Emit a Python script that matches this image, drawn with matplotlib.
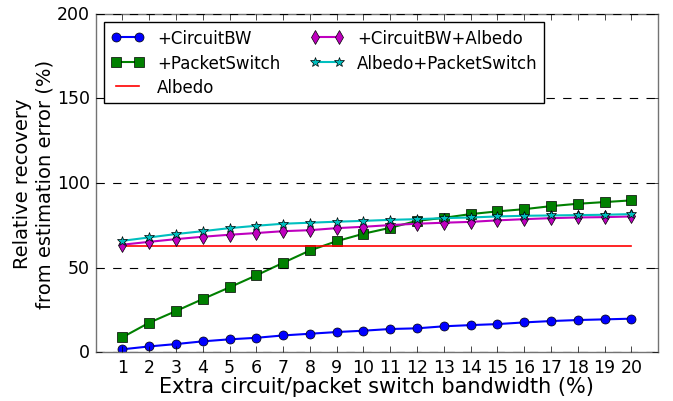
import matplotlib
matplotlib.use('Agg')
import matplotlib.pyplot as plt
import numpy as np

plt.style.use('classic')

bandwidth = list(range(1, 21))
circuit_bw = [1.8, 3.5, 4.9, 6.5, 7.7, 8.6, 10.0, 11.0, 12.0, 12.8,
              13.8, 14.2, 15.4, 16.1, 16.7, 17.7, 18.5, 19.1, 19.5, 19.9]
packet_switch = [8.9, 17.5, 24.4, 31.5, 38.4, 45.5, 52.9, 60.2, 65.7, 70.1,
                 73.6, 77.7, 79.5, 81.7, 83.3, 84.6, 86.4, 87.8, 88.8, 89.8]
albedo = [62.8] * 20
circuit_albedo = [63.6, 65.3, 66.9, 68.3, 69.5, 70.5, 71.6, 72.2, 73.4, 74.2,
                  75.2, 76.0, 76.6, 77.1, 78.0, 78.7, 79.3, 79.7, 79.9, 80.3]
albedo_packet = [65.9, 67.9, 69.9, 71.6, 73.4, 74.8, 76.0, 76.6, 77.2, 77.7,
                 78.3, 78.7, 79.3, 79.7, 80.3, 80.7, 80.9, 81.1, 81.3, 81.7]

fig = plt.figure(figsize=(6.73, 4.02), dpi=100, facecolor='white')
ax = fig.add_subplot(111)
fig.subplots_adjust(left=0.142, right=0.978, top=0.963, bottom=0.121)

ax.plot(bandwidth, circuit_bw, 'b-o', markersize=6.5, linewidth=1.5, label='+CircuitBW')
ax.plot(bandwidth, packet_switch, 'g-s', markersize=6.5, linewidth=1.5, label='+PacketSwitch')
ax.plot(bandwidth, albedo, 'r-', linewidth=1.2, label='Albedo')
ax.plot(bandwidth, circuit_albedo, 'm-d', markersize=7.5, linewidth=1.5, label='+CircuitBW+Albedo')
ax.plot(bandwidth, albedo_packet, 'c-*', markersize=7.5, linewidth=1.5, label='Albedo+PacketSwitch')

ax.set_xlim(0, 21)
ax.set_ylim(0, 200)
ax.set_xticks(bandwidth)
ax.set_yticks([0, 50, 100, 150, 200])
ax.yaxis.grid(True, color='k', linestyle='--', linewidth=0.8)
ax.tick_params(labelsize=12.5)
for s in ax.spines.values():
    s.set_color('0.45')

ax.set_xlabel('Extra circuit/packet switch bandwidth (%)', fontsize=15, labelpad=0)
ax.set_ylabel('Relative recovery\nfrom estimation error (%)', fontsize=14, labelpad=2)

ax.legend(loc='upper left', ncol=2, fontsize=12, numpoints=2,
          handlelength=2.0, columnspacing=1.8, labelspacing=0.4,
          borderaxespad=0.5)

fig.savefig('out.png', dpi=100, facecolor='white')
